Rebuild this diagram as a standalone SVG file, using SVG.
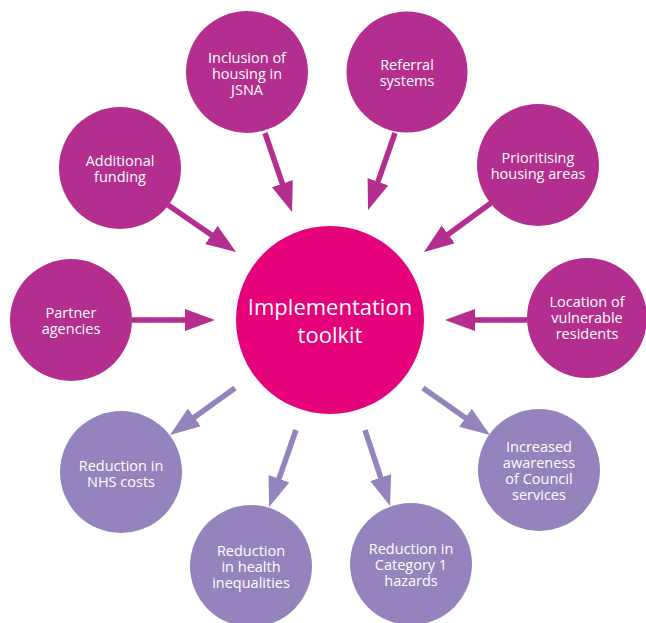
<svg xmlns="http://www.w3.org/2000/svg" width="646" height="623" viewBox="0 0 646 623">
<style>
.m{fill:#B32E8E}
.p{fill:#9483BC}
.c{fill:#E5027A}
.t{fill:#fff;font-family:"Open Sans","Noto Sans",sans-serif;font-size:14.5px;text-anchor:middle}
.tc{fill:#fff;font-family:"Open Sans","Noto Sans",sans-serif;font-size:22px;text-anchor:middle}
.am{stroke:#B32E8E;stroke-width:5.5;fill:none}
.ap{stroke:#9483BC;stroke-width:5.5;fill:none}
</style>
<defs>
<marker id="hm" markerUnits="userSpaceOnUse" markerWidth="32" markerHeight="24" refX="2" refY="11" orient="auto"><path d="M0,0 L30,11 L0,22 z" fill="#B32E8E"/></marker>
<marker id="hp" markerUnits="userSpaceOnUse" markerWidth="32" markerHeight="24" refX="2" refY="11" orient="auto"><path d="M0,0 L30,11 L0,22 z" fill="#9483BC"/></marker>
</defs>
<rect width="646" height="623" fill="#fff"/>
<g id="connectors">
<line class="am" x1="265" y1="133" x2="283" y2="185.5" marker-end="url(#hm)"/>
<line class="am" x1="395" y1="133" x2="377.3" y2="183.6" marker-end="url(#hm)"/>
<line class="am" x1="168" y1="205" x2="213" y2="236.1" marker-end="url(#hm)"/>
<line class="am" x1="491" y1="203" x2="446.6" y2="235.5" marker-end="url(#hm)"/>
<line class="am" x1="132" y1="320" x2="187" y2="320" marker-end="url(#hm)"/>
<line class="am" x1="527" y1="320" x2="473" y2="320" marker-end="url(#hm)"/>
<line class="ap" x1="235" y1="388" x2="192.7" y2="418.6" marker-end="url(#hp)"/>
<line class="ap" x1="423" y1="388" x2="467.1" y2="418.9" marker-end="url(#hp)"/>
<line class="ap" x1="296" y1="430" x2="278.3" y2="480.6" marker-end="url(#hp)"/>
<line class="ap" x1="365" y1="430" x2="381.3" y2="479.4" marker-end="url(#hp)"/>
</g>
<g id="center"><circle class="c" cx="330" cy="320" r="94"/><text class="tc" x="330" y="315">Implementation</text><text class="tc" x="330" y="343">toolkit</text></g>
<g id="inclusion"><circle class="m" cx="247" cy="72" r="61"/><text class="t" x="247" y="63">Inclusion of</text><text class="t" x="247" y="79">housing in</text><text class="t" x="247" y="95">JSNA</text></g>
<g id="referral"><circle class="m" cx="407" cy="72" r="60.5"/><text class="t" x="407" y="70">Referral</text><text class="t" x="407" y="86">systems</text></g>
<g id="additional"><circle class="m" cx="120" cy="168" r="61"/><text class="t" x="120" y="166">Additional</text><text class="t" x="120" y="182">funding</text></g>
<g id="prioritising"><circle class="m" cx="538" cy="165" r="61"/><text class="t" x="538" y="163">Prioritising</text><text class="t" x="538" y="179">housing areas</text></g>
<g id="partner"><circle class="m" cx="71" cy="320" r="61"/><text class="t" x="71" y="318">Partner</text><text class="t" x="71" y="334">agencies</text></g>
<g id="location"><circle class="m" cx="587" cy="318" r="60"/><text class="t" x="587" y="307">Location of</text><text class="t" x="587" y="323">vulnerable</text><text class="t" x="587" y="339">residents</text></g>
<g id="nhs"><circle class="p" cx="121" cy="472" r="61"/><text class="t" x="121" y="471">Reduction in</text><text class="t" x="121" y="487">NHS costs</text></g>
<g id="awareness"><circle class="p" cx="539" cy="470" r="61"/><text class="t" x="539" y="452">Increased</text><text class="t" x="539" y="468">awareness</text><text class="t" x="539" y="484">of Council</text><text class="t" x="539" y="500">services</text></g>
<g id="health"><circle class="p" cx="251" cy="566" r="61"/><text class="t" x="251" y="556">Reduction</text><text class="t" x="251" y="572">in health</text><text class="t" x="251" y="588">inequalities</text></g>
<g id="category"><circle class="p" cx="411" cy="564" r="61"/><text class="t" x="411" y="554">Reduction in</text><text class="t" x="411" y="570">Category 1</text><text class="t" x="411" y="586">hazards</text></g>
</svg>
